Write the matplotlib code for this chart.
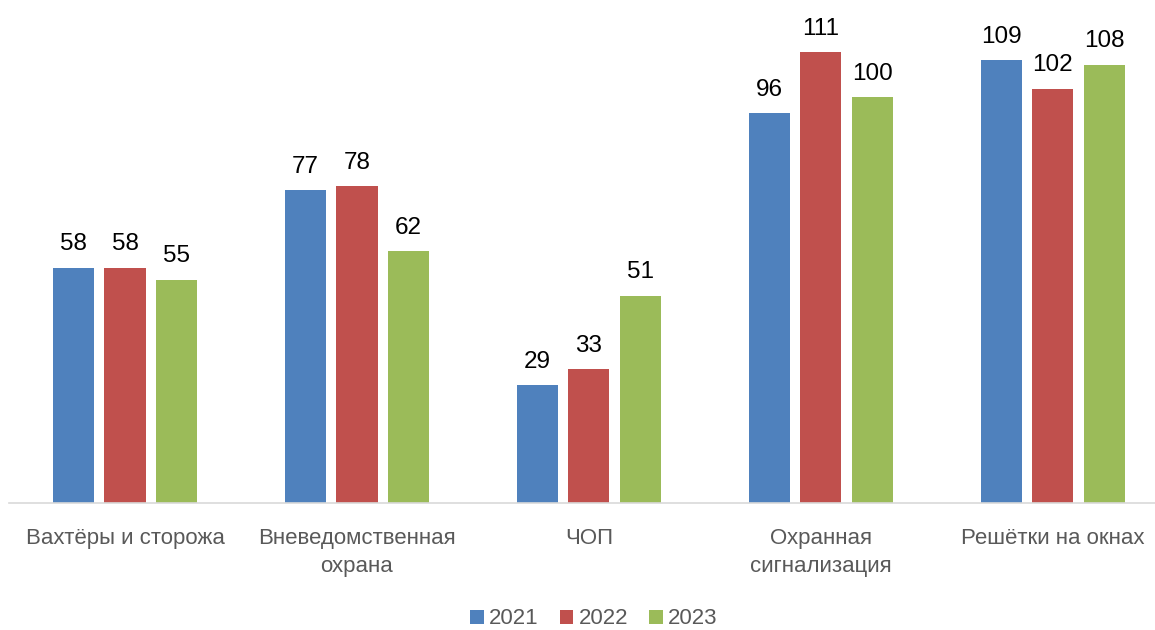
import matplotlib.pyplot as plt
import numpy as np

plt.rcParams["font.family"] = ["Liberation Sans", "DejaVu Sans"]

CATEGORIES = [
    "Вахтёры и сторожа",
    "Вневедомственная\nохрана",
    "ЧОП",
    "Охранная\nсигнализация",
    "Решётки на окнах",
]
YEARS = ["2021", "2022", "2023"]
VALUES_2021 = [58, 77, 29, 96, 109]
VALUES_2022 = [58, 78, 33, 111, 102]
VALUES_2023 = [55, 62, 51, 100, 108]
COLORS = ["#4F81BD", "#C0504D", "#9BBB59"]

W, H = 1155, 630
fig = plt.figure(figsize=(W / 100, H / 100), dpi=100)
ax = fig.add_axes([9 / W, (H - 503) / H, 1 - 9 / W, 503 / H])

x = np.arange(len(CATEGORIES))
width = 0.177
step = 0.222

handles = []
for i, (year, vals, color) in enumerate(
    zip(YEARS, [VALUES_2021, VALUES_2022, VALUES_2023], COLORS)
):
    bars = ax.bar(x + (i - 1) * step, vals, width=width, color=color, label=year)
    ax.bar_label(bars, padding=9, fontsize=17.5, color="black")
    handles.append(bars)

ax.set_xlim(-0.5, 4.44)
ax.set_ylim(0, 123.9)
ax.set_yticks([])
ax.set_xticks(x, labels=CATEGORIES, fontsize=16, color="#595959", linespacing=1.45)
ax.tick_params(axis="x", length=0, pad=18)
for s in ["top", "right", "left"]:
    ax.spines[s].set_visible(False)
ax.spines["bottom"].set_color("#D9D9D9")
ax.spines["bottom"].set_linewidth(1.2)

fig.legend(
    handles=handles,
    loc="center",
    bbox_to_anchor=(594 / W, 1 - 619 / H),
    ncol=3,
    frameon=False,
    fontsize=16,
    labelcolor="#595959",
    handlelength=0.6,
    handleheight=0.6,
    handletextpad=0.25,
    columnspacing=0.95,
)

fig.savefig("out.png", dpi=100)
